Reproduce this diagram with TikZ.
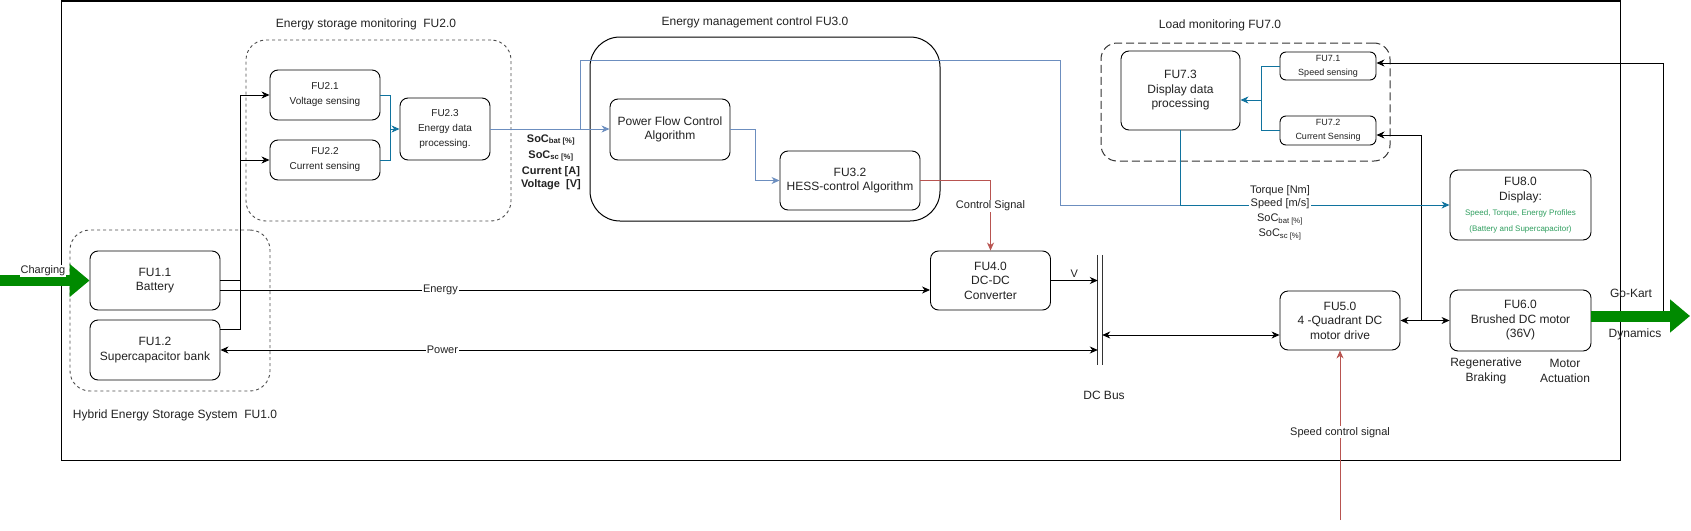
\documentclass[tikz,border=0pt]{standalone}
\usepackage{fontspec}
\setmainfont{Liberation Sans}
\usetikzlibrary{arrows.meta,calc}
\definecolor{bluel}{HTML}{6C8EBF}
\definecolor{blued}{HTML}{10739E}
\definecolor{redl}{HTML}{B85450}
\definecolor{greena}{HTML}{008A00}
\definecolor{greent}{HTML}{2E9E5E}
\definecolor{txt}{HTML}{222222}
\begin{document}
\begin{tikzpicture}[x=1pt,y=-1pt,
  every node/.style={text=txt},
  box/.style={draw, fill=white, rounded corners=8pt, align=center, inner sep=0pt, line width=0.9pt, font=\fontsize{12}{14.5}\selectfont},
  sbox/.style={box, font=\fontsize{10}{15}\selectfont},
  tbox/.style={box, rounded corners=6pt, font=\fontsize{9}{14}\selectfont},
  dbox/.style={draw=black!70, dash pattern=on 3pt off 3pt, rounded corners=20pt, inner sep=0pt, line width=0.9pt},
  ldbox/.style={draw=black!80, dash pattern=on 8pt off 4pt, rounded corners=16pt, inner sep=0pt, line width=1pt},
  lbl/.style={align=center, inner sep=0pt, font=\fontsize{12}{15}\selectfont},
  elbl/.style={fill=white, inner sep=1pt, font=\fontsize{11}{13}\selectfont},
  k/.style={draw=black, line width=0.9pt},
  bl/.style={draw=bluel, line width=0.9pt},
  bd/.style={draw=blued, line width=0.9pt},
  rd/.style={draw=redl, line width=0.9pt},
  arr/.style={-{Stealth[length=8pt,width=7pt,inset=2.5pt]}},
  barr/.style={{Stealth[length=8pt,width=7pt,inset=2.5pt]}-{Stealth[length=8pt,width=7pt,inset=2.5pt]}},
  garrow/.style={draw=greena, line width=11pt, -{Triangle[length=20pt,width=32pt]}}
]
\useasboundingbox (0,0) rectangle (1691,530);

% frame
\node[draw=black, line width=1pt, minimum width=1559, minimum height=459, inner sep=0pt] (frame) at (840.5,230.5) {};

% containers
\node[dbox, minimum width=200, minimum height=161] (hess) at (170,310.5) {};
\node[dbox, minimum width=265, minimum height=181] (fu20) at (378.5,130.5) {};
\node[draw=black, line width=1pt, rounded corners=30pt, minimum width=350, minimum height=184, inner sep=0pt] (fu30) at (765,129) {};
\node[ldbox, minimum width=289, minimum height=118] (fu70) at (1245.5,102) {};

% boxes
\node[box, minimum width=130, minimum height=59] (fu11) at (155,280.5) {FU1.1\\Battery};
\node[box, minimum width=130, minimum height=60] (fu12) at (155,350) {FU1.2\\Supercapacitor bank};
\node[sbox, minimum width=110, minimum height=50] (fu21) at (325,95) {FU2.1\\Voltage sensing};
\node[sbox, minimum width=110, minimum height=40] (fu22) at (325,160) {FU2.2\\Current sensing};
\node[sbox, minimum width=90, minimum height=62] (fu23) at (445,129) {FU2.3\\Energy data\\processing.};
\node[box, minimum width=120, minimum height=61] (pfc) at (670,129.5) {Power Flow Control\\Algorithm};
\node[box, minimum width=140, minimum height=59] (fu32) at (850,180.5) {FU3.2\\HESS-control Algorithm};
\node[box, minimum width=120, minimum height=59] (fu40) at (990.5,280.5) {FU4.0\\DC-DC\\Converter};
\node[minimum width=4, minimum height=110, inner sep=0pt] (bus) at (1100,310) {};
\node[box, minimum width=120, minimum height=59] (fu50) at (1340,320.5) {FU5.0\\4 -Quadrant DC\\motor drive};
\node[box, minimum width=141, minimum height=61] (fu60) at (1520.5,320.5) {FU6.0\\Brushed DC motor\\(36V)};
\node[box, minimum width=141, minimum height=70] (fu80) at (1520.5,205) {FU8.0\\Display:\\[1pt]{\fontsize{8}{10}\selectfont\color{greent}Speed, Torque, Energy Profiles}\\[1pt]{\fontsize{8}{10}\selectfont\color{greent}(Battery and Supercapacitor)}};
\node[box, minimum width=119, minimum height=79] (fu73) at (1180.5,90.5) {FU7.3\\Display data\\processing};
\node[tbox, minimum width=96, minimum height=28] (fu71) at (1328,66) {FU7.1\\Speed sensing};
\node[tbox, minimum width=96, minimum height=29] (fu72) at (1328,130.5) {FU7.2\\Current Sensing};

% DC bus lines
\draw[draw=black!80, line width=0.9pt] (bus.north west) -- (bus.south west);
\draw[draw=black!80, line width=0.9pt] (bus.north east) -- (bus.south east);

% coordinates
\coordinate (jv) at (240,95);
\coordinate (j23) at (390,129);
\coordinate (j2) at (580,129);
\coordinate (t1) at (1060,60);
\coordinate (j7) at (1180.5,205);
\coordinate (j3) at (755,180.5);
\coordinate (j7b) at (1261,100);
\coordinate (b5) at ($(fu50.west)+(0,14.5)$);
\coordinate (j56) at (1421,320.5);
\coordinate (a72) at ($(fu72.east)+(0,4.5)$);
\coordinate (a71) at ($(fu71.east)+(0,-3)$);
\coordinate (jg) at (1663,316);
\coordinate (gk1) at (1690,316);
\coordinate (chg) at (0,280.5);
\coordinate (sc) at (1340,520);

% black connectors
\draw[k] (fu11.east) -- (fu11.east -| jv);
\draw[k] ($(fu12.north east)+(0,10)$) -| (jv);
\draw[k,arr] (jv) -- (fu21.west);
\draw[k,arr] (jv |- fu22.west) -- (fu22.west);
\draw[k,arr] ($(fu11.east)+(0,9.5)$) -- ($(fu40.west)+(0,9.5)$) node[elbl, pos=0.31] {Energy};
\draw[k,barr] (fu12.east) -- (fu12.east -| bus.west) node[elbl, pos=0.253] {Power};
\draw[k,arr] (fu40.east) -- (fu40.east -| bus.west) node[midway, above=3pt, inner sep=0pt, font=\fontsize{11}{13}\selectfont] {V};
\draw[k,barr] (b5 -| bus.east) -- (b5);
\draw[k,barr] (fu50.east) -- (fu60.west);
\draw[k,arr] (j56) |- (a72);
\draw[k,arr] (jg) |- (a71);

% blue connectors
\draw[bd] (fu21.east) -| (j23);
\draw[bd] (fu22.east) -| (j23);
\draw[bd,arr] (j23) -- (fu23.west);
\draw[bl,arr] (fu23.east) -- (pfc.west |- fu23.east);
\draw[bl] (j2) |- (t1) |- (j7);
\draw[bl,arr] (pfc.east) -| (j3) -- (fu32.west);
\draw[bd,arr] (fu73.south) |- (fu80.west);
\draw[bd] (fu71.west) -| (j7b);
\draw[bd] (fu72.west) -| (j7b);
\draw[bd,arr] (j7b) -- (j7b -| fu73.east);

% red connectors
\draw[rd,arr] (fu32.east) -| (fu40.north) node[elbl, pos=0.68] {Control Signal};
\draw[rd,arr] (sc) -- (fu50.south) node[elbl, pos=0.518] {Speed control signal};

% green arrows
\draw[garrow] (chg) -- (fu11.west);
\draw[garrow] (fu60.east |- gk1) -- (gk1);
\node[elbl] (lchg) at (43,271) {Charging};

% labels
\node[lbl] (t20) at (366,24) {Energy storage monitoring\ \ FU2.0};
\node[lbl] (t30) at (755,22) {Energy management control FU3.0};
\node[lbl] (t70) at (1220,25) {Load monitoring FU7.0};
\node[lbl] (t10) at (175,415) {Hybrid Energy Storage System\ \ FU1.0};
\node[lbl] (tbus) at (1104,395) {DC Bus};
\node[lbl] (treg) at (1486,370.5) {Regenerative\\Braking};
\node[lbl] (tmot) at (1565,370.5) {Motor\\Actuation};
\node[lbl] (tgk) at (1631,293) {Go-Kart};
\node[lbl] (tdyn) at (1635,334) {Dynamics};
\node[align=center, inner sep=0pt, font=\bfseries\fontsize{11}{13}\selectfont] (socl) at (551,162) {SoC\textsubscript{bat [\%]}\\[3pt]SoC\textsubscript{sc [\%]}\\[3pt]Current [A]\\Voltage\ \ [V]};
\node[align=center, fill=white, inner sep=1pt, font=\fontsize{11}{13}\selectfont] (socr) at (1280,213) {Torque [Nm]\\Speed [m/s]\\[2pt]SoC\textsubscript{bat [\%]}\\[2pt]SoC\textsubscript{sc [\%]}};
\end{tikzpicture}
\end{document}
